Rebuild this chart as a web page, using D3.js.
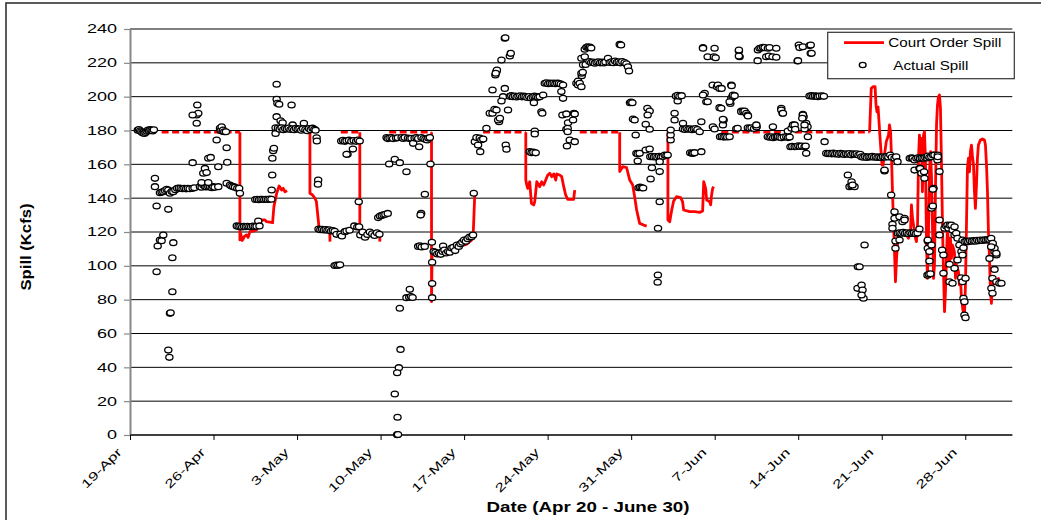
<!DOCTYPE html>
<html>
<head>
<meta charset="utf-8">
<script src="https://cdn.jsdelivr.net/npm/d3@7"></script>
<style>
  html, body { margin: 0; padding: 0; background: #fff; }
  svg { display: block; }
  text { font-family: Arial, "Liberation Sans", sans-serif; fill: #000; }
</style>
</head>
<body>
<svg id="chart" width="1041" height="520"></svg>
<script>
// ---- data -------------------------------------------------------------
// Days are counted from 19-Apr (day 0); spill values are in Kcfs.
const startDate = new Date(2010, 3, 19);
const endDay = 74;
const xTickLabels = ["19-Apr","26-Apr","3-May","10-May","17-May","24-May","31-May","7-Jun","14-Jun","21-Jun","28-Jun"];
const yTicks = [0,20,40,60,80,100,120,140,160,180,200,220,240];
const seriesNames = ["Court Order Spill", "Actual Spill"];
const xTitle = "Date (Apr 20 - June 30)";
const yTitle = "Spill (Kcfs)";

// Court order spill, periods with a set volume
const courtOrderSolid = [
  [[9.21,179],[9.21,115.3],[9.27,119.2],[9.4,115],[9.49,116],[9.6,117.5],[9.77,118.2],[9.9,116.8],[10.05,120.2],[10.3,120.5],[10.61,121.2],[10.66,127.1],[11.31,127.1],[11.45,126.1],[11.95,125.5],[12.06,135],[12.29,142.9],[12.5,147.2],[12.71,144.8],[12.84,145.8],[12.98,143.8],[13.17,144.4]],
  [[15.08,179],[15.08,142.9],[15.3,141.9],[15.5,139.9],[15.62,138],[15.85,122.2],[16.0,120.5],[16.4,120.2],[16.74,120.2],[16.76,114.3]],
  [[19.26,179],[19.26,118.6],[19.6,119.5],[20.0,120],[20.5,119.5],[20.92,120],[20.94,114.3]],
  [[25.27,179],[25.27,78.8],[25.32,108.4],[25.8,108.5],[26.5,109.5],[27.2,110.5],[27.8,112],[28.19,112.7],[28.6,115],[28.75,116.3],[28.89,141.9]],
  [[33.17,179],[33.17,150.7],[33.25,147.8],[33.33,145.8],[33.5,149.7],[33.64,137],[33.84,136],[33.92,137.9],[34.09,149.7],[34.34,146.8],[34.5,149.7],[34.67,147.8],[34.84,150.7],[35.01,153.7],[35.18,154.7],[35.34,152.7],[35.51,154.3],[35.68,150.7],[35.76,154.3],[36.01,153.7],[36.18,152.7],[36.35,146.8],[36.51,141.9],[36.68,139.3],[37.02,139.3],[37.18,139.3],[37.27,144.8]],
  [[41.04,179],[41.04,155.7],[41.29,158.6],[41.62,158],[41.88,150.7],[42.13,147.8],[42.29,140.9],[42.46,133],[42.71,125.1],[43.05,124.1],[43.3,123.5]],
  [[45.08,179],[45.08,127.1],[45.23,126.1],[45.4,133],[45.56,138.3],[45.81,140.9],[46.14,140.3],[46.31,137.9],[46.4,133],[46.9,132],[47.32,132],[47.74,131.6],[47.99,132.4],[48.08,149.7],[48.24,145.8],[48.33,138.9],[48.58,137.9],[48.66,136],[48.74,141.9],[48.83,145.8],[48.91,146.8]],
  [[61.98,179],[62.12,204.9],[62.27,205.9],[62.44,205.9],[62.52,195],[62.6,191.1],[62.69,194],[62.77,185.2],[62.86,175.4],[62.94,167.5],[63.02,159.6],[63.11,159.6],[63.38,173.4],[63.57,177.3],[63.65,183.3],[63.74,179.3],[63.82,163.6],[63.9,143.8],[63.99,124.1],[64.07,108.4],[64.15,90.6],[64.24,104.4],[64.32,112.3],[64.41,116.3],[64.57,119.2],[64.74,118.2],[64.91,120.2],[65.08,118.2],[65.24,116.3],[65.41,120.2],[65.49,136],[65.58,128.1],[65.66,124.1],[65.75,120.2],[65.83,116.3],[65.91,114.3],[66.0,124.1],[66.08,163.6],[66.16,177.3],[66.25,163.6],[66.33,175.4],[66.41,143.8],[66.5,177.3],[66.58,179.3],[66.66,163.6],[66.75,114.3],[66.83,92.6],[66.92,120.2],[67.0,155.6],[67.09,167.5],[67.17,152.7],[67.25,124.1],[67.34,92.6],[67.42,100.5],[67.5,143.8],[67.59,183.3],[67.67,195],[67.75,200],[67.84,201],[67.92,193.1],[68.0,163.6],[68.09,124.1],[68.17,98],[68.26,72.9],[68.34,84.7],[68.42,104.4],[68.51,124.1],[68.59,112.3],[68.68,100.5],[68.76,116.3],[68.84,104.4],[68.93,112.3],[69.09,108.4],[69.18,92.6],[69.26,100.5],[69.43,96.5],[69.51,88.7],[69.6,92.6],[69.68,80.8],[69.8,74],[69.93,70],[70.02,90],[70.1,124.1],[70.18,157.6],[70.27,163.6],[70.35,155.6],[70.43,167.5],[70.52,171.4],[70.6,165],[70.69,159.6],[70.77,143.8],[70.85,134],[70.94,147.8],[71.02,163.6],[71.1,171.4],[71.27,174.4],[71.44,175],[71.61,174.4],[71.69,171.4],[71.78,159.6],[71.86,143.8],[71.94,120.2],[72.03,104.4],[72.11,84.7],[72.19,77.8],[72.28,88.7],[72.45,92.6],[72.61,90.6],[72.78,92.6],[72.86,90.6]]
];

// Court order spill, periods capped at the maximum (drawn dashed)
const courtOrderDashed = [
  [[2.65,179],[9.21,179]],
  [[17.67,179],[19.26,179]],
  [[21.72,179],[25.27,179]],
  [[29.59,179],[33.17,179]],
  [[37.69,179],[41.04,179]],
  [[49.56,179],[61.98,179]]
];

// Actual spill readings
const actualSpill = [
  [0.65,180.2],[0.75,180.6],[0.85,179.8],[0.95,179.2],[1.05,178.6],[1.15,179],[1.2,178.2],[1.3,178.8],[1.4,179.6],[1.5,180.3],[1.6,179.9],[1.7,180.5],[1.8,180.1],[1.9,179.7],[2.0,180.4],
  [2.09,151.7],[2.09,146.8],[2.23,135.4],[2.23,96.5],[2.32,111.7],[2.51,115.3],[2.65,114.9],[2.79,118.2],[3.21,133.4],[3.21,50.2],[3.3,45.9],[3.35,71.9],[3.4,72.3],[3.55,104.8],[3.55,84.7],[3.63,113.7],
  [2.51,143.2],[2.65,143.6],[2.79,143.8],[2.93,144.5],[3.07,145.2],[3.21,144.8],[3.35,142.9],[3.5,144],[3.63,143.8],[3.8,145],[3.95,145.8],[4.1,146],[4.25,145.8],[4.4,145.6],[4.55,145.8],[4.7,145.5],[4.85,145.8],[5.0,145.6],[5.25,145.8],[5.4,146.2],[5.86,146.8],[6.0,146.5],[6.14,147.8],[6.3,146.8],[6.42,146.6],[6.56,146.9],[6.7,146.8],[6.85,146.2],[6.97,146.8],[7.1,146.4],[7.4,146.8],
  [5.25,161],[5.59,189.2],[5.64,195.1],[5.72,190.2],[5.59,184.3],[5.25,189.2],[6.0,149.2],[6.14,154.7],[6.28,157.6],[6.42,155.1],[6.56,163.6],[6.76,164.1],[6.56,149.2],[7.26,174.4],[7.4,158.6],
  [7.54,181.3],[7.6,180],[7.68,182.2],[7.75,179.5],[7.81,180.3],[7.9,179.3],[8.04,179.3],
  [8.1,169.8],[8.15,161.2],[8.1,148.8],[8.38,147.8],[8.5,147.2],[8.65,146.8],[8.8,146.5],[8.99,145.8],[9.15,145.8],[9.21,142.9],
  [8.95,123.6],[9.1,123.2],[9.25,123.4],[9.4,123],[9.55,123.3],[9.7,123.1],[9.85,123.4],[10.0,123.2],[10.15,123.1],[10.3,123.5],[10.45,123.2],[10.6,123.4],[10.75,126.5],[10.85,123.6],
  [10.5,139.2],[10.65,139.4],[10.8,139.1],[10.95,139.4],[11.1,139.3],[11.25,139.2],[11.4,139.4],[11.55,139.2],[11.7,139.5],[11.85,139.4],
  [11.87,144.8],[11.92,153.7],[11.93,163.6],[12.0,168.1],[12.06,169.5],[12.2,178.3],[12.2,181.6],[12.29,188.2],[12.29,198.4],[12.35,196.1],[12.29,207.3],[12.5,195.5],[12.62,185.8],[12.79,184.6],[13.54,195.1],[13.63,183.3],[14.57,184.3],
  [12.4,181.5],[12.55,180.8],[12.7,181.6],[12.85,180.5],[13.0,181.2],[13.15,180.9],[13.3,181.5],[13.45,180.6],[13.6,181],[13.75,180.4],[13.9,181.3],[14.05,180.8],[14.2,181],[14.35,180.2],[14.5,181.1],[14.7,180.6],[14.85,179.9],[15.0,181.2],[15.15,180.5],[15.3,181.4],[15.45,180.7],[15.55,180.2],
  [15.64,175.7],[15.66,173.8],[15.77,150.7],[15.75,148.2],
  [15.8,121.8],[15.95,121.4],[16.1,121.6],[16.25,121.2],[16.4,121.5],[16.55,121],[16.7,121.3],[16.85,120.6],[17.0,120.9],[17.15,120.4],[17.31,118.6],[17.64,118.8],[17.76,117.6],[18.0,120.2],[18.15,120.6],[18.4,121],[18.8,123.6],[19.05,123],[19.2,123.1],[19.3,118.2],[19.5,120],[19.7,116.9],[19.9,118.5],[20.1,120],[20.3,119],[20.5,118],[20.7,119.5],[20.9,118.6],
  [17.15,100.2],[17.3,100.5],[17.45,100.3],[17.6,100.6],
  [17.7,173.8],[17.85,174.2],[18.0,173.6],[18.15,173.9],[18.35,174.3],[18.55,173.7],[18.75,174.1],[18.95,173.6],[19.1,174.4],[19.25,173.8],[18.23,166],[18.68,169],[18.15,165.9],[19.17,137.9],
  [20.8,128.5],[20.95,129.5],[21.1,129.8],[21.25,130.2],[21.4,130.5],[21.6,131],
  [21.5,175.8],[21.6,175.2],[21.75,175.6],[21.92,175.8],[22.05,175.2],[22.3,175.5],[22.45,175.7],[22.76,175.8],[22.9,175.3],[23.03,175.8],[23.3,175.5],[23.45,175.2],[23.59,175.4],[23.73,172.4],[23.85,175.6],[24.01,175.9],[24.15,175.3],[24.23,170.4],[24.43,175.8],[24.6,175.2],[24.75,174.8],[24.9,174.4],[25.0,175.5],[25.13,175.8],
  [21.72,160.2],[22.19,163],[22.61,161],[23.17,155.6],[25.18,160.2],
  [24.71,142.3],[24.4,131],[24.35,130],[24.15,111.5],[24.3,111.8],[24.45,111.2],[24.7,111.5],
  [23.45,86.1],[23.17,81.2],[23.4,81.4],[23.55,81.8],[23.68,81.3],[22.61,74.9],[22.67,50.6],[22.53,39.8],[22.39,36.8],[22.19,24.2],[22.42,10.5],[22.39,0.2],[22.46,0.3],
  [25.3,113.9],[25.32,102.1],[25.32,89.5],[25.32,81.2],
  [25.45,108.5],[25.6,108],[25.75,107],[25.9,107.5],[26.05,106.8],[26.2,108.5],[26.24,111.7],[26.35,109.4],[26.5,107.6],[26.66,108.4],[26.8,108],[26.95,110.5],[27.1,111],[27.25,109],[27.4,112.3],[27.55,111.5],[27.7,113],[27.85,114],[28.0,115.3],[28.15,114.5],[28.3,116],[28.45,117],[28.62,117.2],[28.75,118.2],
  [28.81,142.9],
  [28.9,173.4],[29.04,175.8],[29.17,171.4],[29.31,175.5],[29.35,167.5],[29.45,174.5],[29.6,175],[29.87,181.3],
  [30.15,190.2],[30.38,190.2],[30.38,203.9],[30.55,192.5],[30.71,192.1],[30.62,212.8],[30.71,214.8],[30.75,215.8],[30.65,213.8],[30.93,185.2],[30.85,186.2],[31.13,221.7],[31.41,234.5],[31.45,234.8],[31.41,204.9],[31.27,200],[31.13,197.4],[31.0,187.2],[31.49,171.4],[31.55,168.9],[31.83,224],[31.91,225.6],[31.68,192.1],
  [31.83,200.2],[31.95,200.6],[32.1,200],[32.25,200.4],[32.4,199.8],[32.55,200.2],[32.7,200.5],[32.85,199.9],[33.0,200.3],[33.15,200],[33.3,199.5],[33.45,200.1],[33.6,199.2],[33.75,199.8],[33.9,200.3],[34.05,200],[34.2,199.6],[34.34,200],
  [33.92,179.7],[33.92,177.9],[34.62,201],[34.48,191.1],[34.55,190.2],[33.5,167.5],[33.65,166.9],[33.8,167.2],[34.0,166.8],[33.85,196.4],
  [34.76,207.9],[34.9,208.2],[35.05,207.6],[35.2,208],[35.35,207.8],[35.5,208.1],[35.65,207.7],[35.8,208],[35.95,207.9],[36.1,207.5],[36.29,206.9],
  [36.15,203],[36.29,199],[36.24,189.2],[36.57,189.8],[36.57,180.7],[36.71,184.6],[36.62,170.8],[36.68,181.3],[36.68,179.3],[36.85,174.4],[37.13,186.2],[37.2,190.2],[37.27,189.8],[37.27,173.4],[37.41,207.9],[37.55,209.3],[37.55,206.9],[37.69,207.9],[37.83,205.9],[37.86,212.4],[37.83,213.8],[37.94,214.4],[37.97,218.8],[37.83,222.7],[38.11,228],[38.11,223.6],[38.19,219],
  [38.25,229.2],[38.35,229.5],[38.45,229],[38.55,229.3],[38.65,228.8],
  [38.5,220.8],[38.65,220.2],[38.8,220.5],[38.95,219.8],[39.1,220.3],[39.25,220.6],[39.4,220],[39.55,220.4],[39.7,219.9],[39.85,220.5],[40.06,222.7],[40.2,220.2],[40.35,220.6],[40.5,220.1],[40.65,221.1],[40.8,220.3],[40.95,220.6],[41.1,220],[41.25,220.8],[41.45,220.2],[41.6,219.5],
  [41.04,230.9],[41.15,230.5],[41.73,217.7],[41.82,215.2],
  [41.9,196.4],[42.0,196.8],[42.1,196.4],[42.15,186.8],[42.29,186.2],[42.38,177.3],
  [42.44,166.5],[42.55,166.2],[42.71,166.5],[42.55,162],
  [42.62,146.2],[42.75,146.5],[42.88,146.2],[43.0,146],
  [43.36,193.1],[43.55,191.5],[43.38,189.2],[43.22,183.7],[43.55,180.7],[43.22,168.5],[43.55,169.1],
  [43.6,164.5],[43.75,164.8],[43.9,164.3],[44.05,164.6],[44.2,164.2],[44.35,164.8],[44.5,164.4],[44.65,164.7],[44.81,165.5],[44.95,165.2],[45.06,165.5],
  [43.74,158],[43.63,151.3],[44.39,155.7],[44.39,161.6],[44.39,137.9],[44.25,122.2],[44.24,94.6],[44.22,90.3],
  [45.31,174.4],[45.31,177.3],[45.31,180.3],
  [45.64,190.2],[45.64,186.2],[45.9,197.4],[45.75,200.4],[45.9,200.8],[46.05,200.2],[46.23,200.6],
  [46.34,184.3],[46.34,180.9],[46.5,180.6],[46.65,181.2],[46.8,180.7],[46.95,181],[47.1,180.5],[47.25,180.9],[47.4,181.2],[47.55,180.6],[47.74,179.3],[47.88,185.2],
  [46.95,166.8],[47.1,166.5],[47.2,166.5],[47.32,166.9],[47.88,167.5],
  [48.02,229],[48.02,228.6],[48.41,223.6],[48.16,202],[48.02,201],[48.3,197],[48.41,197],[48.83,206.9],
  [48.99,228.6],[48.93,223.6],[49.08,223],[49.19,205.9],[49.27,206.9],[49.41,204.9],[49.58,204.9],[50.39,206.9],[50.42,206.5],
  [48.85,182.2],[48.99,180.9],[49.69,183.3],[49.75,186.2],[49.69,186.6],[49.41,193.5],[49.55,193.1],
  [49.45,176.3],[49.6,176.5],[49.75,176.1],[49.9,176.4],[50.05,176.2],[50.25,176.3],
  [50.31,196],[50.39,199],[50.5,200],[50.53,201],[50.67,200.6],[50.25,197],
  [51.03,227],[51.03,227.6],[51.09,223.6],[51.03,224],
  [50.81,181],[50.92,181.3],
  [51.23,191.5],[51.23,191.1],[51.4,191.3],[51.51,191.5],[51.65,190.2],[51.76,189.2],[51.79,188.6],
  [51.78,181.6],[51.93,181.3],[52.09,181.6],[52.3,181.2],[52.49,182.2],[52.51,182],[52.49,183.3],
  [52.6,221.3],[52.62,227.6],[52.76,228.6],[52.9,228.8],[53.05,229.2],[53.18,229],[53.32,223.6],[53.46,228.6],[53.54,224],[53.6,229],[53.85,223.6],[54.16,228.6],[54.16,223.3],
  [53.88,182.2],
  [53.45,176.3],[53.6,176],[53.74,176.3],[53.9,175.7],[54.05,176.2],[54.2,176.5],[54.3,176.3],[54.45,176],[54.6,175.7],[54.8,176.2],[55.0,176.3],[55.15,175.8],[55.28,176.2],
  [54.58,193.1],[54.58,192.1],[54.69,190.2],[54.72,190.2],
  [55.13,179.7],[55.44,181.3],[55.56,183.3],[55.7,183.3],[55.75,180.7],
  [55.35,170.4],[55.5,170.6],[55.7,170.4],[55.85,170.5],[56.0,171],[56.15,170.6],[56.3,170.8],[56.53,170.4],[56.62,170.8],[56.67,166.5],
  [56.39,189.6],[56.45,188.2],[56.39,189.2],[56.34,187.2],
  [56.67,184.3],[56.78,182.2],[56.53,180.9],[56.53,183.3],[56.81,176.3],
  [55.95,221.1],[55.98,221.3],[56.05,230.5],[56.11,229],[56.39,229.5],[56.95,230.2],[57.05,230.5],[57.05,225.6],[57.12,225.6],
  [56.95,200.4],[57.1,200.6],[57.25,200.2],[57.4,200.5],[57.55,200.3],[57.65,200],[57.8,200.4],[58.0,200.5],[58.15,200.2],
  [58.21,173.4],
  [58.35,166.5],[58.5,166.3],[58.63,166.5],[58.8,166.2],[58.95,166.6],[59.1,166.1],[59.25,166.4],[59.4,165.9],[59.55,166.5],[59.7,166.2],[59.85,165.8],[60.0,166.3],[60.15,166],[60.3,166.4],[60.45,165.6],[60.6,166.2],[60.75,165.9],[60.9,166.3],[61.05,165.5],[61.2,166],
  [60.16,153.7],[60.47,149.7],[60.3,146.8],[60.47,147.2],[60.72,146.8],[60.55,147.8],
  [61.0,99.5],[60.97,86.7],[61.14,99.5],[61.31,88.7],[61.39,85.7],[61.47,80.8],[61.31,82.8],[61.56,112.3],
  [61.3,164.5],[61.45,164.2],[61.6,164.6],[61.75,164.1],[61.9,164.5],[62.05,164.3],[62.2,164.7],[62.35,164.2],[62.5,164.5],[62.65,164],[62.8,164.4],[62.95,164.1],[63.1,164.5],[63.25,164.2],[63.4,164.6],[63.55,164.3],[63.71,165.5],[63.85,164.2],[64.07,163.6],[64.21,164.5],[64.32,161.6],
  [63.23,156.1],[63.23,156.6],[63.79,141.9],
  [64.07,132],[64.07,128.1],[63.9,124.6],[63.9,122.2],[64.15,114.7],[64.15,110.4],[64.49,129],[64.74,126.1],[64.91,128.1],[64.91,127.1],[64.35,119.2],[64.49,115.3],
  [64.5,119.6],[64.65,119.3],[64.8,119.8],[64.95,119.2],[65.1,119.6],[65.25,119],[65.4,119.5],[65.55,119.2],[65.7,119.6],[65.85,119],[66.0,119.4],[66.16,121.8],
  [65.35,163.6],[65.5,163.9],[65.6,163.6],[65.75,162.6],[65.9,163.6],[66.05,163.9],[66.2,163.5],[66.35,163.8],[66.5,163.6],[66.65,164],[66.8,163.7],[66.86,164.9],[67.0,164.2],[67.15,164.5],[67.3,165.5],[67.42,165.5],
  [65.75,156.6],[66.16,157.6],[66.22,157.6],[66.33,154.7],[66.55,155.6],[66.58,151.7],
  [66.83,94.5],[66.94,95],[67.08,95.3],[66.86,114.7],[66.86,115.3],[66.86,110.4],[67.0,108.4],[67.0,102.9],[67.17,112.3],
  [67.34,145.8],[67.28,145.2],[67.25,135],[67.17,134],[67.28,135.4],
  [67.7,165.5],[67.67,162.6],[67.7,164.5],[67.84,155.7],
  [67.84,127.1],[67.84,118.2],[68.06,109.4],[68.17,106.4],[68.17,95.6],
  [68.26,122.2],[68.4,123.5],[68.51,124.1],[68.6,122.2],[68.7,124],[68.84,124.1],[68.94,121.2],[69.1,123.1],[69.1,118.2],
  [68.68,100.9],[69.1,98.5],[68.68,90.6],[68.93,89.7],
  [69.24,119.2],[69.35,116.3],[69.51,112.3],[69.68,108.4],[69.77,106.4],[69.35,103.4],[69.66,93],[69.77,90.6],
  [69.85,80.8],[69.93,78.8],[69.93,70.9],[70.02,69.3],[70.02,92.6],[69.85,110.7],[69.77,115.3],
  [69.95,114.3],[70.1,114.6],[70.25,114.3],[70.4,114.8],[70.55,114.5],[70.7,114.9],[70.85,114.6],[71.0,115.1],[71.15,114.8],[71.3,115.2],[71.45,115],[71.6,115.4],[71.75,115.2],[71.9,115.5],[72.03,115.6],
  [72.17,116.3],[72.28,111.9],[72.3,113.3],[72.45,108.4],[72.61,106.4],[72.03,104.4],[72.45,97.9],[72.28,92.6],[72.19,86.7],[72.28,83.8],[72.61,90.6],[72.86,89.7],[73.03,89.7],[72.45,110.4],[72.6,107.4],[72.17,111.3]
];

// ---- drawing ----------------------------------------------------------
const svg = d3.select("#chart");
const toDate = d => new Date(startDate.getTime() + d * 864e5);
const parseTick = d3.timeParse("%d-%b-%Y");

const plot = { left: 130, right: 1013, top: 29, bottom: 435 };
const x = d3.scaleTime().domain([startDate, toDate(endDay)]).range([plot.left, plot.right]);
const y = d3.scaleLinear().domain([0, 240]).range([plot.bottom, plot.top]);

// stretch a text element along its baseline by a factor
function widen(sel, factor) {
  sel.each(function () {
    const w = this.getComputedTextLength();
    d3.select(this).attr("textLength", w * factor).attr("lengthAdjust", "spacingAndGlyphs");
  });
}

// outer frame
svg.append("rect").attr("x", 6).attr("y", 3).attr("width", 1060).attr("height", 540)
  .attr("fill", "#fff").attr("stroke", "#333").attr("stroke-width", 1.6);

// horizontal grid
svg.append("g").selectAll("line").data(yTicks).join("line")
  .attr("x1", plot.left).attr("x2", 1012.3)
  .attr("y1", d => y(d)).attr("y2", d => y(d))
  .attr("stroke", "#000").attr("stroke-width", 1);

// y axis
const yAxis = svg.append("g").attr("transform", `translate(${plot.left},0)`)
  .call(d3.axisLeft(y).tickValues(yTicks).tickSize(6).tickSizeOuter(0).tickPadding(7));
yAxis.select(".domain").attr("stroke", "#888").attr("stroke-width", 2);
yAxis.selectAll(".tick line").attr("stroke", "#888").attr("stroke-width", 1.2);
yAxis.selectAll(".tick text").attr("font-size", 12).attr("font-family", "Arial, 'Liberation Sans', sans-serif")
  .call(widen, 1.5);

// x axis
const tickDates = xTickLabels.map(s => parseTick(s + "-2010"));
const xAxis = svg.append("g").attr("transform", `translate(0,${plot.bottom})`)
  .call(d3.axisBottom(x).tickValues(tickDates).tickFormat(d3.timeFormat("%-d-%b")).tickSize(5).tickSizeOuter(0));
xAxis.select(".domain").attr("stroke", "#000").attr("stroke-width", 1.2).attr("d", `M${plot.left},0H1012.3`);
xAxis.selectAll(".tick line").attr("stroke", "#000");
xAxis.selectAll(".tick text")
  .attr("font-size", 12).attr("font-family", "Arial, 'Liberation Sans', sans-serif")
  .attr("text-anchor", "end").attr("x", 0).attr("y", 0).attr("dy", 0)
  .attr("transform", "translate(-8,18) rotate(-45)")
  .call(widen, 1.42);

// court order spill
const line = d3.line().x(d => x(toDate(d[0]))).y(d => y(d[1]));
svg.append("g").selectAll("path").data(courtOrderDashed).join("path")
  .attr("d", line).attr("fill", "none").attr("stroke", "#ff0000")
  .attr("stroke-width", 2.4).attr("stroke-dasharray", "7,3.5");
svg.append("g").selectAll("path").data(courtOrderSolid).join("path")
  .attr("d", line).attr("fill", "none").attr("stroke", "#ff0000")
  .attr("stroke-width", 2.8).attr("stroke-linejoin", "round");

// actual spill markers
svg.append("g").selectAll("ellipse").data(actualSpill).join("ellipse")
  .attr("cx", d => x(toDate(d[0]))).attr("cy", d => y(d[1]))
  .attr("rx", 3.6).attr("ry", 2.9)
  .attr("fill", "#fff").attr("stroke", "#000").attr("stroke-width", 1.3);

// axis titles
svg.append("text").text(xTitle)
  .attr("x", 588).attr("y", 512).attr("text-anchor", "middle")
  .attr("font-size", 14).attr("font-weight", "bold")
  .attr("textLength", 203).attr("lengthAdjust", "spacingAndGlyphs");
svg.append("text").text(yTitle)
  .attr("transform", "translate(31,247) rotate(-90)").attr("text-anchor", "middle")
  .attr("font-size", 14).attr("font-weight", "bold")
  .attr("textLength", 87).attr("lengthAdjust", "spacingAndGlyphs");

// legend
const lg = svg.append("g");
lg.append("rect").attr("x", 827.7).attr("y", 32.3).attr("width", 186.6).attr("height", 46.4)
  .attr("fill", "#fff").attr("stroke", "#333").attr("stroke-width", 1.2);
lg.append("line").attr("x1", 844).attr("x2", 884).attr("y1", 42.7).attr("y2", 42.7)
  .attr("stroke", "#ff0000").attr("stroke-width", 2.8);
lg.append("text").text(seriesNames[0]).attr("x", 888.3).attr("y", 47)
  .attr("font-size", 13).attr("textLength", 113).attr("lengthAdjust", "spacingAndGlyphs");
lg.append("ellipse").attr("cx", 862.7).attr("cy", 65).attr("rx", 3.4).attr("ry", 2.6)
  .attr("fill", "#fff").attr("stroke", "#000").attr("stroke-width", 1.3);
lg.append("text").text(seriesNames[1]).attr("x", 893.3).attr("y", 69.5)
  .attr("font-size", 13).attr("textLength", 75).attr("lengthAdjust", "spacingAndGlyphs");
</script>
</body>
</html>
